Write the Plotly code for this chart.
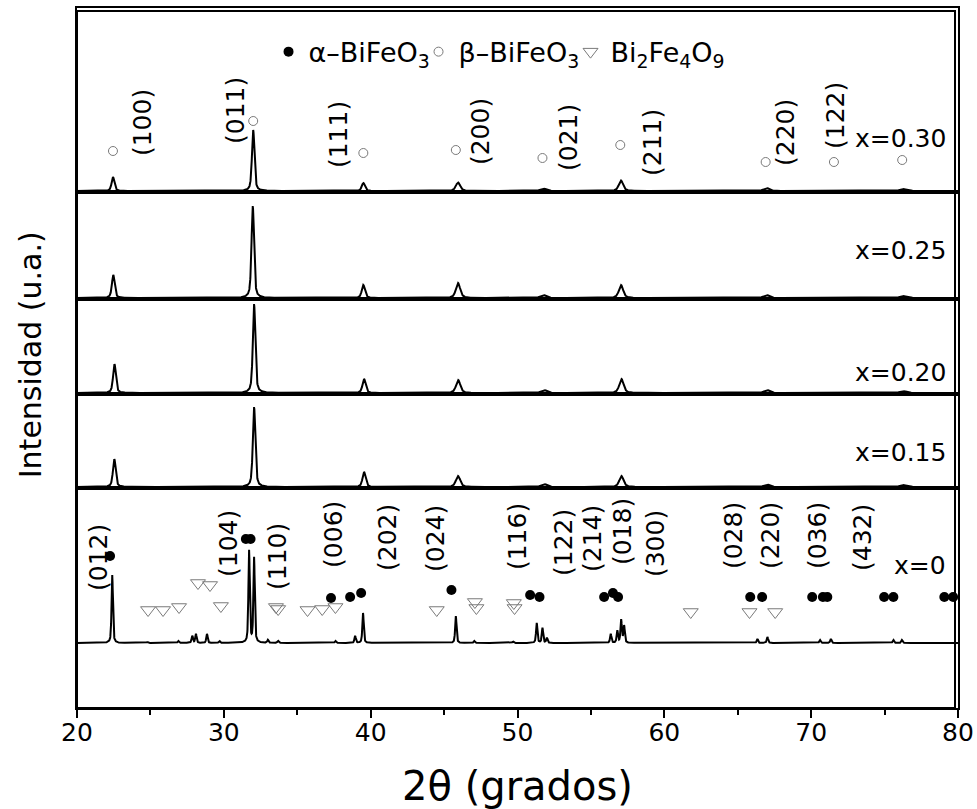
import numpy as np
import plotly.graph_objects as go
from plotly.subplots import make_subplots

# ---------------- data ----------------
x_range = [20, 80]
sample_labels = ["x=0.30", "x=0.25", "x=0.20", "x=0.15", "x=0"]

# Peak positions (deg 2θ) and heights (a.u.) for each sample
pos_030 = [22.45, 32.00, 39.50, 45.95, 51.75, 57.05, 66.95, 76.25]
int_030 = [14, 61, 8, 8.5, 2.5, 10.5, 3, 2]
pos_025 = [22.47, 31.97, 39.50, 45.95, 51.75, 57.05, 66.95, 76.25]
int_025 = [23, 92, 13, 15, 3, 13, 3, 2]
pos_020 = [22.55, 32.06, 39.55, 45.96, 51.80, 57.08, 66.98, 76.25]
int_020 = [29, 89, 14, 13, 3, 14, 3, 2]
pos_015 = [22.54, 32.06, 39.55, 45.95, 51.80, 57.08, 66.98, 76.25]
int_015 = [28, 80, 15, 11, 3, 11, 2.5, 2]
fwhm_doped = [0.22, 0.20, 0.25, 0.35, 0.45, 0.35, 0.45, 0.5]

pos_000 = [22.40, 24.80, 26.90, 27.85, 28.10, 28.85, 29.70, 31.72, 32.06, 33.00,
           33.70, 37.60, 38.94, 39.48, 45.80, 47.05, 49.70, 51.31, 51.70, 52.00,
           56.35, 56.80, 57.06, 57.26, 66.34, 67.02, 70.60, 71.34, 75.60, 76.18]
int_000 = [68, 1, 2, 7, 9, 9, 2, 92, 85, 3,
           2, 2, 7, 30, 27, 2, 1.5, 20, 15, 5,
           9, 12, 23, 17, 4, 6, 3, 4, 3, 3]
fwhm_000 = 0.11

# phase markers: alpha-BiFeO3 (filled circles, x=0 panel)
alpha_x = [22.25, 31.50, 31.82, 37.30, 38.60, 39.35, 45.50, 50.86, 51.50, 55.90,
           56.50, 56.85, 65.85, 66.66, 70.07, 70.80, 71.10, 74.97, 75.60, 79.07, 79.67]
alpha_y = [87, 104, 104, 45, 46, 50, 53, 48, 46, 46,
           50, 46, 46, 46, 46, 46, 46, 46, 46, 46, 46]
# beta-BiFeO3 (open circles, x=0.30 panel)
beta_x = [22.45, 32.00, 39.50, 45.80, 51.70, 57.00, 66.90, 71.55, 76.20]
beta_y = [40, 70, 38, 41, 33, 46, 29, 29, 31]
# Bi2Fe4O9 (open triangles, x=0 panel)
bfo_x = [24.84, 25.86, 26.95, 28.24, 29.06, 29.80, 33.55, 33.70, 35.70, 36.70,
         37.60, 44.50, 47.10, 47.20, 49.75, 49.80, 61.80, 65.80, 67.55]
bfo_y = [33, 33, 36, 60, 58, 37, 36, 34, 33, 34,
         36, 33, 41, 35, 40, 35, 31, 31, 31]

# Miller index labels
beta_hkl = ["(100)", "(011)", "(111)", "(200)", "(021)", "(211)", "(220)", "(122)"]
beta_hkl_x = [24.43, 30.76, 37.78, 47.45, 53.44, 59.16, 68.22, 71.62]
beta_hkl_y = [68, 81, 56, 59, 53, 48, 58, 76]
alpha_hkl = ["(012)", "(104)", "(110)", "(006)", "(202)", "(024)", "(116)", "(122)",
             "(214)", "(018)", "(300)", "(028)", "(220)", "(036)", "(432)"]
alpha_hkl_x = [21.43, 30.28, 33.62, 37.43, 41.11, 44.38, 49.97, 53.10,
               55.07, 57.12, 59.37, 64.68, 67.20, 70.40, 73.46]
alpha_hkl_y = [85, 100, 87, 109, 106, 105, 106, 100, 105, 111, 99, 107, 107, 107, 106]

# sample label heights inside each panel
sample_label_y = [53, 48, 21, 34, 78]

# ---------------- build figure ----------------
row_heights = [184, 107, 95, 94, 220]
y_ranges = [[-1, 183], [-1, 106], [-1, 94], [-1, 93], [-65, 155]]

grid = np.arange(20, 80.0001, 0.01)


def pattern(pos, hts, widths):
    y = np.zeros_like(grid)
    if np.isscalar(widths):
        widths = [widths] * len(pos)
    for p, h, w in zip(pos, hts, widths):
        g = w / 2.0
        lor = g ** 2 / ((grid - p) ** 2 + g ** 2)
        gau = np.exp(-4 * np.log(2) * (grid - p) ** 2 / w ** 2)
        y += h * (0.55 * lor + 0.45 * gau)
    return y


fig = make_subplots(rows=5, cols=1, shared_xaxes=True, vertical_spacing=0,
                    row_heights=row_heights)

series = [(pos_030, int_030, fwhm_doped), (pos_025, int_025, fwhm_doped),
          (pos_020, int_020, fwhm_doped), (pos_015, int_015, fwhm_doped),
          (pos_000, int_000, fwhm_000)]

for i, (p, h, w) in enumerate(series):
    fig.add_trace(go.Scatter(x=grid, y=pattern(p, h, w), mode="lines",
                             line=dict(color="black", width=2),
                             showlegend=False, hoverinfo="skip"),
                  row=i + 1, col=1)

fig.add_trace(go.Scatter(x=alpha_x, y=alpha_y, mode="markers",
                         name="α–BiFeO<sub>3</sub>", legendwidth=105,
                         marker=dict(symbol="circle", color="black", size=10)),
              row=5, col=1)
fig.add_trace(go.Scatter(x=beta_x, y=beta_y, mode="markers",
                         name="β–BiFeO<sub>3</sub>", legendwidth=107,
                         marker=dict(symbol="circle-open", color="#7a7a7a", size=9,
                                     line=dict(width=1))),
              row=1, col=1)
fig.add_trace(go.Scatter(x=bfo_x, y=bfo_y, mode="markers",
                         name="Bi<sub>2</sub>Fe<sub>4</sub>O<sub>9</sub>", legendwidth=125,
                         marker=dict(symbol="triangle-down-open", color="#7a7a7a", size=13,
                                     line=dict(width=1))),
              row=5, col=1)

font_family = "DejaVu Sans, Liberation Sans, Arial, sans-serif"
annotations = []
for t, x, y in zip(beta_hkl, beta_hkl_x, beta_hkl_y):
    annotations.append(dict(text=t, x=x, y=y, xref="x", yref="y", textangle=-90,
                            showarrow=False, font=dict(size=25, color="black")))
for t, x, y in zip(alpha_hkl, alpha_hkl_x, alpha_hkl_y):
    annotations.append(dict(text=t, x=x, y=y, xref="x5", yref="y5", textangle=-90,
                            showarrow=False, font=dict(size=25, color="black")))
for i, (t, y) in enumerate(zip(sample_labels, sample_label_y)):
    yref = "y" if i == 0 else "y%d" % (i + 1)
    xref = "x" if i == 0 else "x%d" % (i + 1)
    annotations.append(dict(text=t, x=79.3, y=y, xref=xref, yref=yref, xanchor="right",
                            showarrow=False, font=dict(size=25, color="black")))

annotations.append(dict(text="Intensidad (u.a.)", x=-0.0533, y=0.504, xref="paper",
                        yref="paper", textangle=-90, showarrow=False,
                        xanchor="center", yanchor="middle",
                        font=dict(size=30, color="black")))
annotations.append(dict(text="2θ (grados)", x=0.5, y=-0.111, xref="paper", yref="paper",
                        showarrow=False, xanchor="center", yanchor="middle",
                        font=dict(size=40, color="black")))

fig.update_layout(
    width=977, height=809,
    margin=dict(l=77, r=19, t=8, b=101),
    paper_bgcolor="white", plot_bgcolor="white",
    font=dict(family=font_family, color="black"),
    annotations=annotations,
    legend=dict(orientation="h", x=0.2174, y=0.937, xanchor="left", yanchor="middle",
                font=dict(size=27), bgcolor="rgba(0,0,0,0)", itemwidth=30,
                tracegroupgap=0),
    # outer frame of the stacked panels (inset slightly so it is never clipped)
    shapes=[dict(type="rect", xref="paper", yref="paper",
                 x0=0, x1=1 - 3.0 / 881, y0=0, y1=1 - 3.0 / 700,
                 line=dict(color="black", width=2), layer="above")],
)

for i in range(1, 6):
    fig.update_xaxes(range=x_range, showline=True, mirror=True, linecolor="black",
                     linewidth=2, showgrid=False, zeroline=False, automargin=False,
                     row=i, col=1)
    fig.update_yaxes(range=y_ranges[i - 1], showline=True, mirror=True, linecolor="black",
                     linewidth=2, showgrid=False, zeroline=False, ticks="",
                     showticklabels=False, automargin=False, row=i, col=1)

fig.update_xaxes(ticks="outside", ticklen=8, tickwidth=2, tickcolor="black", dtick=10,
                 tick0=20, showticklabels=True, tickfont=dict(size=25),
                 ticklabelstandoff=-7,
                 minor=dict(ticks="outside", ticklen=5, tickwidth=2, dtick=5,
                            tickcolor="black"),
                 row=5, col=1)

# remove the browser's default 8px body margin so the figure fills the window exactly
fig.write_html("out.html", config={"displayModeBar": False},
               post_script="document.body.style.margin='0';"
                           "document.body.style.overflow='hidden';")
